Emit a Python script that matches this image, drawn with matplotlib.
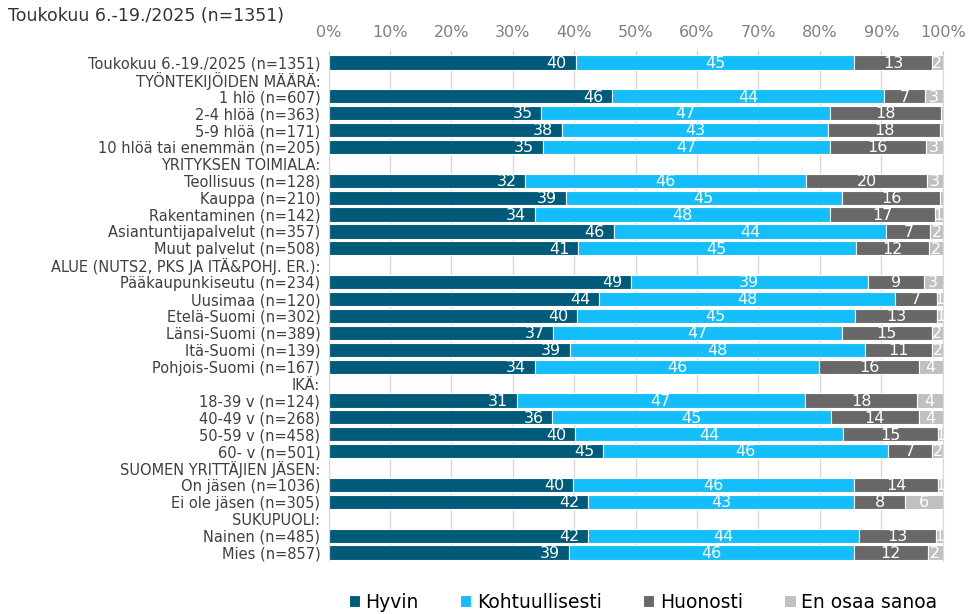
import matplotlib.pyplot as plt
import numpy as np

# rows top -> bottom; None marks a group header row (no bar)
labels = [
    "Toukokuu 6.-19./2025 (n=1351)",
    "TYÖNTEKIJÖIDEN MÄÄRÄ:",
    "1 hlö (n=607)",
    "2-4 hlöä (n=363)",
    "5-9 hlöä (n=171)",
    "10 hlöä tai enemmän (n=205)",
    "YRITYKSEN TOIMIALA:",
    "Teollisuus (n=128)",
    "Kauppa (n=210)",
    "Rakentaminen (n=142)",
    "Asiantuntijapalvelut (n=357)",
    "Muut palvelut (n=508)",
    "ALUE (NUTS2, PKS JA ITÄ&POHJ. ER.):",
    "Pääkaupunkiseutu (n=234)",
    "Uusimaa (n=120)",
    "Etelä-Suomi (n=302)",
    "Länsi-Suomi (n=389)",
    "Itä-Suomi (n=139)",
    "Pohjois-Suomi (n=167)",
    "IKÄ:",
    "18-39 v (n=124)",
    "40-49 v (n=268)",
    "50-59 v (n=458)",
    "60- v (n=501)",
    "SUOMEN YRITTÄJIEN JÄSEN:",
    "On jäsen (n=1036)",
    "Ei ole jäsen (n=305)",
    "SUKUPUOLI:",
    "Nainen (n=485)",
    "Mies (n=857)",
]

hyvin = [40.2, None, 46.1, 34.6, 38.0, 34.9, None, 32.0, 38.6, 33.6, 46.4, 40.6, None,
         49.2, 44.0, 40.4, 36.6, 39.3, 33.6, None, 30.6, 36.4, 40.1, 44.7, None,
         39.8, 42.3, None, 42.3, 39.1]
kohtuu = [45.4, None, 44.4, 47.1, 43.4, 46.7, None, 45.8, 45.0, 48.1, 44.4, 45.2, None,
          38.6, 48.3, 45.3, 47.0, 48.0, 46.3, None, 47.0, 45.4, 43.7, 46.4, None,
          45.8, 43.3, None, 44.0, 46.4]
huonosti = [12.6, None, 6.6, 18.1, 18.1, 15.6, None, 19.6, 16.0, 17.0, 7.2, 11.9, None,
            9.1, 6.7, 13.4, 14.6, 11.0, 16.2, None, 18.2, 14.3, 15.4, 7.2, None,
            13.7, 8.3, None, 12.6, 12.1]
eos = [1.8, None, 2.9, 0.2, 0.5, 2.8, None, 2.6, 0.4, 1.3, 2.0, 2.3, None,
       3.1, 1.0, 0.9, 1.8, 1.7, 3.9, None, 4.2, 3.9, 0.8, 1.7, None,
       0.7, 6.1, None, 1.1, 2.4]

series = ["Hyvin", "Kohtuullisesti", "Huonosti", "En osaa sanoa"]
colors = ["#005A7A", "#14BEFA", "#686868", "#C0C0C0"]

fig = plt.figure(figsize=(9.7, 6.14), dpi=100)
ax = fig.add_axes([328.7 / 970, 1 - 561 / 614, 614 / 970, 507 / 614])

y = np.arange(len(labels))
data = [hyvin, kohtuu, huonosti, eos]
left = np.zeros(len(labels))
for k, (vals, col, name) in enumerate(zip(data, colors, series)):
    v = np.array([0 if x is None else x for x in vals], dtype=float)
    bars = ax.barh(y, v, left=left, height=0.84, color=col, edgecolor="white",
                   linewidth=0.8, label=name, zorder=2)
    for yi, (l, w) in enumerate(zip(left, v)):
        if w < 0.6:
            continue
        if k == 0:
            # first series is labelled at the inside end of the bar
            t = ax.text(l + w - 1.4, yi + 0.05, f"{round(w):d}", ha="right",
                        va="center", color="white", fontsize=11.5, zorder=3)
        else:
            t = ax.text(l + w / 2, yi + 0.05, f"{round(w):d}", ha="center",
                        va="center", color="white", fontsize=11.5, zorder=3)
        t.set_clip_path(bars[yi])
    left += v

ax.set_xlim(0, 100)
ax.set_ylim(len(labels) - 0.5, -0.5)
ax.set_yticks(y)
ax.set_yticklabels(labels, fontsize=10.5, color="#404040")
ax.tick_params(axis="y", length=0, pad=6)
ax.xaxis.tick_top()
ax.set_xticks(np.arange(0, 101, 10))
ax.set_xticklabels([f"{t}%" for t in range(0, 101, 10)], fontsize=11.5, color="#808080")
ax.tick_params(axis="x", length=2, color="#c0c0c0", pad=8)
ax.grid(axis="x", color="#d9d9d9", linewidth=1, zorder=0)
for s in ["top", "bottom"]:
    ax.spines[s].set_visible(False)
ax.spines["left"].set_color("#d9d9d9")
ax.spines["right"].set_color("#d9d9d9")

fig.text(8 / 970, 1 - 16 / 614, "Toukokuu 6.-19./2025 (n=1351)", fontsize=12.5,
         color="#333333", va="center")

fig.legend(loc="center", bbox_to_anchor=(643 / 970, 1 - 602 / 614), ncol=4,
           frameon=False, fontsize=13.5, handlelength=0.6, handleheight=0.6,
           handletextpad=0.3, columnspacing=2.2)

fig.savefig("out.png", dpi=100)
